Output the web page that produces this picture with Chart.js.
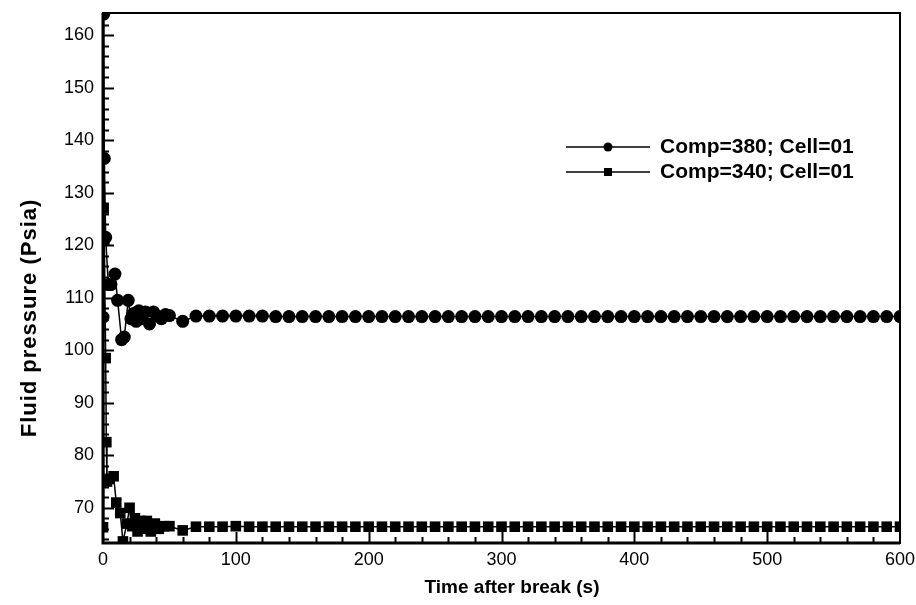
<!DOCTYPE html>
<html>
<head>
<meta charset="utf-8">
<script src="https://cdn.jsdelivr.net/npm/chart.js@4"></script>
<style>
  html, body { margin: 0; padding: 0; background: #fff; }
  #wrap { width: 916px; height: 605px; }
</style>
</head>
<body>
<div id="wrap"><canvas id="chart"></canvas></div>
<script>
// time (s) and pressure (psia), compressor 380, cell 01
var time380 = [0, 0.5, 1, 2, 4, 6, 9, 11, 14, 16, 19, 21, 23, 25, 27, 29, 32, 35, 38, 41, 44, 47, 50, 60,
    70, 80, 90, 100, 110, 120, 130, 140, 150, 160, 170, 180, 190, 200, 210, 220, 230, 240, 250, 260,
    270, 280, 290, 300, 310, 320, 330, 340, 350, 360, 370, 380, 390, 400, 410, 420, 430, 440, 450,
    460, 470, 480, 490, 500, 510, 520, 530, 540, 550, 560, 570, 580, 590, 600];
var press380 = [106.3, 164, 136.5, 121.5, 112.5, 112.5, 114.5, 109.5, 102, 102.5, 109.5, 106, 107, 105.5, 107.5, 106, 107.3, 105, 107.3, 106.5, 106, 106.8, 106.6, 105.5,
    106.5, 106.5, 106.5, 106.5, 106.5, 106.5, 106.4, 106.4, 106.4, 106.4, 106.4, 106.4, 106.4, 106.4, 106.4, 106.4, 106.4, 106.4, 106.4, 106.4,
    106.4, 106.4, 106.4, 106.4, 106.4, 106.4, 106.4, 106.4, 106.4, 106.4, 106.4, 106.4, 106.4, 106.4, 106.4, 106.4, 106.4, 106.4, 106.4,
    106.4, 106.4, 106.4, 106.4, 106.4, 106.4, 106.4, 106.4, 106.4, 106.4, 106.4, 106.4, 106.4, 106.4, 106.4];

// time (s) and pressure (psia), compressor 340, cell 01
var time340 = [0, 0.5, 1, 2, 2.5, 3, 5, 8, 10, 13, 15, 18, 20, 22, 24, 26, 28, 30, 33, 36, 39, 42, 46, 50, 60,
    70, 80, 90, 100, 110, 120, 130, 140, 150, 160, 170, 180, 190, 200, 210, 220, 230, 240, 250, 260,
    270, 280, 290, 300, 310, 320, 330, 340, 350, 360, 370, 380, 390, 400, 410, 420, 430, 440, 450,
    460, 470, 480, 490, 500, 510, 520, 530, 540, 550, 560, 570, 580, 590, 600];
var press340 = [66.3, 127, 121, 98.5, 82.5, 75, 75.5, 76, 71, 69, 63.6, 67, 70, 66.5, 68, 65.5, 67.5, 66, 67.5, 65.5, 67, 66, 66.5, 66.5, 65.7,
    66.4, 66.4, 66.4, 66.5, 66.4, 66.4, 66.4, 66.4, 66.4, 66.4, 66.4, 66.4, 66.4, 66.4, 66.4, 66.4, 66.4, 66.4, 66.4, 66.4,
    66.4, 66.4, 66.4, 66.4, 66.4, 66.4, 66.4, 66.4, 66.4, 66.4, 66.4, 66.4, 66.4, 66.4, 66.4, 66.4, 66.4, 66.4, 66.4,
    66.4, 66.4, 66.4, 66.4, 66.4, 66.4, 66.4, 66.4, 66.4, 66.4, 66.4, 66.4, 66.4, 66.4, 66.4];

var seriesNames = ['Comp=380; Cell=01', 'Comp=340; Cell=01'];
var xTicks = [0, 100, 200, 300, 400, 500, 600];
var yTicks = [70, 80, 90, 100, 110, 120, 130, 140, 150, 160];
var xTitle = 'Time after break (s)';
var yTitle = 'Fluid pressure (Psia)';

var FONT = '"Liberation Sans", Arial, sans-serif';

function pairs(xs, ys) {
    return xs.map(function (x, i) { return { x: x, y: ys[i] }; });
}

// frame and inward tick marks (major + minor)
var framePlugin = {
    id: 'frame',
    afterDatasetsDraw: function (chart) {
        var ctx = chart.ctx, a = chart.chartArea;
        var xs = chart.scales.x, ys = chart.scales.y;
        ctx.save();
        ctx.strokeStyle = '#000';
        ctx.lineWidth = 2;
        ctx.strokeRect(a.left, a.top, a.right - a.left, a.bottom - a.top);
        ctx.lineWidth = 3;
        ctx.beginPath();
        ctx.moveTo(a.left, a.top);
        ctx.lineTo(a.left, a.bottom);
        ctx.lineTo(a.right, a.bottom);
        ctx.stroke();

        ctx.lineWidth = 2;
        ctx.beginPath();
        for (var v = 64; v <= 164; v += 2) {
            var py = Math.round(ys.getPixelForValue(v)) + 0.5;
            var len = (v % 10 === 0) ? 11 : 6;
            ctx.moveTo(a.left, py);
            ctx.lineTo(a.left + len, py);
        }
        for (var t = 20; t < 600; t += 20) {
            var px = Math.round(xs.getPixelForValue(t)) + 0.5;
            var l2 = (t % 100 === 0) ? 11 : 6;
            ctx.moveTo(px, a.bottom);
            ctx.lineTo(px, a.bottom - l2);
        }
        ctx.stroke();
        ctx.restore();
    }
};

// axis titles and legend (line with the marker in the middle, bold label)
var textPlugin = {
    id: 'texts',
    afterDraw: function (chart) {
        var ctx = chart.ctx;
        ctx.save();
        ctx.fillStyle = '#000';
        ctx.textAlign = 'center';
        ctx.textBaseline = 'middle';

        ctx.font = 'bold 19px ' + FONT;
        ctx.fillText(xTitle, 512, 588);

        ctx.save();
        ctx.translate(30, 318);
        ctx.rotate(-Math.PI / 2);
        ctx.font = 'bold 22px ' + FONT;
        ctx.letterSpacing = '1px';
        ctx.fillText(yTitle, 0, 0);
        ctx.restore();

        var rows = [147, 172];
        ctx.textAlign = 'left';
        chart.data.datasets.forEach(function (ds, i) {
            var y = rows[i];
            ctx.strokeStyle = '#000';
            ctx.lineWidth = 1.5;
            ctx.beginPath();
            ctx.moveTo(566, y);
            ctx.lineTo(650, y);
            ctx.stroke();
            if (ds.pointStyle === 'rect') {
                ctx.fillRect(604, y - 4, 8, 8);
            } else {
                ctx.beginPath();
                ctx.arc(608, y, 4.5, 0, Math.PI * 2);
                ctx.fill();
            }
            ctx.font = 'bold 21px ' + FONT;
            ctx.fillText(ds.label, 660, y);
        });
        ctx.restore();
    }
};

var ctx = document.getElementById('chart');
new Chart(ctx, {
    type: 'line',
    data: {
        datasets: [{
            label: seriesNames[0],
            data: pairs(time380, press380),
            borderColor: '#000',
            backgroundColor: '#000',
            borderWidth: 1.5,
            pointStyle: 'circle',
            pointRadius: 6.5,
            pointBorderWidth: 0,
            tension: 0
        }, {
            label: seriesNames[1],
            data: pairs(time340, press340),
            borderColor: '#000',
            backgroundColor: '#000',
            borderWidth: 1.5,
            pointStyle: 'rect',
            pointRadius: 7.5,
            pointBorderWidth: 0,
            tension: 0
        }]
    },
    plugins: [framePlugin, textPlugin],
    options: {
        responsive: true,
        maintainAspectRatio: false,
        animation: false,
        layout: { padding: { left: 0, right: 16, top: 13, bottom: 0 } },
        plugins: {
            legend: { display: false },
            tooltip: { enabled: false }
        },
        scales: {
            x: {
                type: 'linear',
                min: 0,
                max: 600,
                afterBuildTicks: function (scale) {
                    scale.ticks = xTicks.map(function (v) { return { value: v }; });
                },
                afterFit: function (scale) {
                    scale.height = 62;
                    scale.paddingLeft = 0;
                    scale.paddingRight = 0;
                },
                grid: { display: false, drawTicks: false },
                border: { display: false },
                ticks: {
                    color: '#000',
                    padding: 6,
                    maxRotation: 0,
                    font: { family: FONT, size: 18 }
                }
            },
            y: {
                type: 'linear',
                min: 63.3,
                max: 164.2,
                afterBuildTicks: function (scale) {
                    scale.ticks = yTicks.map(function (v) { return { value: v }; });
                },
                afterFit: function (scale) {
                    scale.width = 103;
                    scale.paddingTop = 0;
                    scale.paddingBottom = 0;
                },
                grid: { display: false, drawTicks: false },
                border: { display: false },
                ticks: {
                    color: '#000',
                    padding: 9,
                    font: { family: FONT, size: 18 }
                }
            }
        }
    }
});
</script>
</body>
</html>
